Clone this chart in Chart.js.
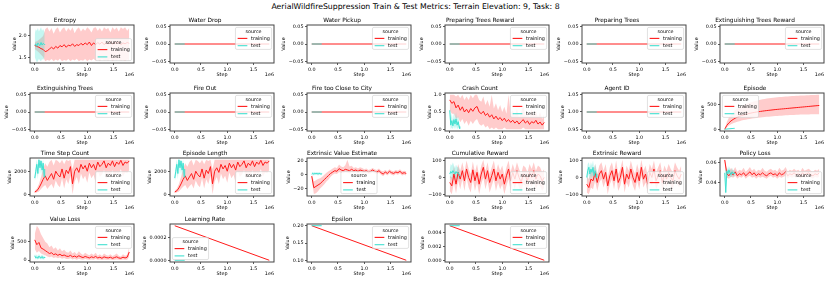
<!DOCTYPE html>
<html>
<head>
<meta charset="utf-8">
<script src="https://cdn.jsdelivr.net/npm/chart.js"></script>
<style>
  body { margin: 0; background: #fff; }
  #fig { position: relative; width: 831px; height: 283px; overflow: hidden; background: #fff; }
  #suptitle { position: absolute; left: 0; top: 2px; width: 831px; text-align: center; white-space: nowrap;
              font-family: "DejaVu Sans"; font-size: 7.75px; line-height: 10px; color: #000; }
  #fig canvas { position: absolute; }
</style>
</head>
<body>
<div id="fig">
  <div id="suptitle">AerialWildfireSuppression Train &amp; Test Metrics: Terrain Elevation: 9, Task: 8</div>
</div>
<script>
// steps on the x axis
const trainSteps = [0, 40000, 80000, 120000, 160000, 200000, 240000, 280000, 320000, 360000,
  400000, 440000, 480000, 520000, 560000, 600000, 640000, 680000, 720000, 760000,
  800000, 840000, 880000, 920000, 960000, 1000000, 1040000, 1080000, 1120000, 1160000,
  1200000, 1240000, 1280000, 1320000, 1360000, 1400000, 1440000, 1480000, 1520000, 1560000,
  1600000, 1640000, 1680000, 1720000, 1760000, 1800000];
const testSteps = [0, 20000, 40000, 60000, 80000, 100000, 120000, 140000, 160000, 180000, 190000];
const lineSteps = [0, 1800000];
const lineTestSteps = [0, 190000];
const xTicks = [0, 500000, 1000000, 1500000];
const xTickLabels = ['0.0', '0.5', '1.0', '1.5'];

const seriesNames = ['training', 'test'];
const legendTitle = 'source';

// Entropy
const entropyTrain = [1.78, 1.76, 1.74, 1.71, 1.69, 1.64, 1.66, 1.70, 1.74, 1.70,
  1.76, 1.72, 1.78, 1.75, 1.80, 1.74, 1.79, 1.77, 1.82, 1.76,
  1.80, 1.78, 1.83, 1.79, 1.84, 1.80, 1.86, 1.78, 1.84, 1.80,
  1.85, 1.81, 1.86, 1.80, 1.84, 1.82, 1.87, 1.81, 1.85, 1.83,
  1.86, 1.80, 1.84, 1.82, 1.85, 1.83];
const entropyTrainLo = [1.70, 1.66, 1.62, 1.57, 1.52, 1.42, 1.45, 1.43, 1.47, 1.42,
  1.46, 1.43, 1.48, 1.42, 1.45, 1.43, 1.47, 1.42, 1.46, 1.44,
  1.48, 1.42, 1.45, 1.43, 1.47, 1.42, 1.46, 1.44, 1.48, 1.43,
  1.46, 1.42, 1.47, 1.44, 1.45, 1.43, 1.48, 1.42, 1.46, 1.44,
  1.47, 1.43, 1.45, 1.42, 1.46, 1.44];
const entropyTrainHi = [1.86, 1.88, 1.91, 1.95, 2.00, 2.15, 2.20, 2.10, 2.18, 2.05,
  2.15, 2.20, 2.08, 2.16, 2.20, 2.10, 2.18, 2.12, 2.20, 2.06,
  2.15, 2.20, 2.10, 2.17, 2.12, 2.20, 2.15, 2.08, 2.18, 2.20,
  2.12, 2.18, 2.10, 2.20, 2.15, 2.18, 2.08, 2.20, 2.14, 2.19,
  2.10, 2.20, 2.16, 2.20, 2.12, 2.18];
const entropyTest = [1.78, 1.82, 1.76, 1.84, 1.80, 1.78, 1.85, 1.79, 1.83, 1.81, 1.80];
const entropyTestLo = [1.52, 1.45, 1.40, 1.42, 1.48, 1.44, 1.42, 1.47, 1.45, 1.50, 1.55];
const entropyTestHi = [2.05, 2.15, 2.12, 2.18, 2.10, 2.15, 2.20, 2.12, 2.16, 2.10, 2.05];
const entropyTicks = [1.5, 2.0];
const entropyTickLabels = ['1.5', '2.0'];

// flat metrics
const zeroTrain = [0, 0];
const zeroTest = [0, 0];
const flatTicks = [-0.05, 0, 0.05];
const flatTickLabels = ['\u22120.05', '0.00', '0.05'];
const agentTrain = [1, 1];
const agentTest = [1, 1];
const agentTicks = [0.95, 1.0, 1.05];
const agentTickLabels = ['0.95', '1.00', '1.05'];

// Crash Count
const crashTrain = [0.85, 0.75, 0.80, 0.62, 0.70, 0.55, 0.65, 0.50, 0.58, 0.48,
  0.60, 0.52, 0.62, 0.66, 0.50, 0.45, 0.52, 0.40, 0.46, 0.35,
  0.42, 0.30, 0.38, 0.28, 0.34, 0.25, 0.32, 0.22, 0.28, 0.20,
  0.26, 0.18, 0.24, 0.15, 0.22, 0.28, 0.18, 0.24, 0.14, 0.22,
  0.18, 0.26, 0.15, 0.21, 0.12, 0.20];
const crashTrainLo = [0.55, 0.45, 0.45, 0.30, 0.35, 0.20, 0.30, 0.15, 0.25, 0.10,
  0.25, 0.15, 0.25, 0.30, 0.15, 0.10, 0.15, 0.05, 0.10, 0.00,
  0.05, 0.00, 0.05, 0.00, 0.00, 0.00, 0.05, 0.00, 0.00, 0.00,
  0.00, 0.00, 0.00, 0.00, 0.00, 0.05, 0.00, 0.00, 0.00, 0.00,
  0.00, 0.00, 0.00, 0.00, 0.00, 0.00];
const crashTrainHi = [1.00, 1.00, 1.00, 0.95, 1.00, 0.90, 1.00, 0.85, 0.95, 0.85,
  1.00, 0.90, 1.00, 1.00, 0.85, 0.80, 0.95, 0.70, 0.85, 0.65,
  1.00, 0.60, 0.75, 0.55, 0.70, 0.50, 0.65, 0.45, 1.00, 0.45,
  0.55, 0.40, 0.60, 0.35, 0.50, 0.70, 0.40, 0.50, 0.35, 0.60,
  0.40, 0.55, 0.35, 0.50, 0.30, 0.45];
const crashTest = [0.55, 0.12, 0.25, 0.10, 0.28, 0.15, 0.30, 0.12, 0.22, 0.08, 0.02];
const crashTestLo = [0.30, 0.00, 0.05, 0.00, 0.10, 0.00, 0.10, 0.00, 0.05, 0.00, 0.00];
const crashTestHi = [0.80, 0.30, 0.45, 0.25, 0.50, 0.30, 0.50, 0.30, 0.40, 0.20, 0.05];
const crashTicks = [0, 0.5, 1.0];
const crashTickLabels = ['0.0', '0.5', '1.0'];

// Episode
const episodeTrain = [0, 80, 130, 170, 200, 225, 245, 262, 278, 292,
  304, 315, 325, 334, 342, 350, 357, 363, 369, 375,
  380, 385, 390, 395, 400, 404, 408, 412, 416, 420,
  424, 428, 432, 436, 440, 444, 448, 452, 456, 460,
  464, 468, 472, 476, 480, 484];
const episodeTrainLo = [0, 40, 75, 100, 120, 138, 152, 165, 176, 186,
  195, 203, 210, 217, 223, 229, 234, 239, 244, 248,
  252, 256, 260, 264, 268, 271, 274, 277, 280, 283,
  286, 288, 290, 292, 294, 296, 298, 299, 300, 301,
  302, 303, 304, 305, 306, 307];
const episodeTrainHi = [0, 150, 240, 300, 350, 390, 420, 448, 472, 494,
  512, 528, 543, 556, 568, 580, 590, 600, 608, 616,
  623, 630, 636, 641, 646, 650, 654, 658, 662, 665,
  668, 671, 674, 677, 680, 682, 684, 686, 688, 690,
  692, 694, 696, 698, 700, 702];
const episodeTest = [0, 3, 5, 7, 9, 11, 13, 15, 17, 19, 20];
const episodeTestLo = [0, 1, 3, 5, 7, 9, 11, 13, 15, 17, 18];
const episodeTestHi = [0, 5, 7, 9, 11, 13, 15, 17, 19, 21, 22];
const episodeTicks = [0, 500];
const episodeTickLabels = ['0', '500'];

// Time Step Count / Episode Length
const stepCountTrain = [200, 300, 550, 900, 1300, 1600, 1200, 1500, 1800, 1300,
  2000, 1700, 1500, 2200, 1400, 2100, 1800, 2400, 900, 2000,
  2300, 1900, 2600, 2200, 2500, 2000, 2700, 2300, 2600, 2100,
  2800, 2400, 2600, 2900, 2300, 2700, 2500, 2900, 2400, 2800,
  2600, 2950, 2500, 2800, 2700, 2900];
const stepCountTrainLo = [100, 150, 250, 450, 650, 800, 450, 700, 900, 500,
  1200, 800, 600, 1400, 500, 1300, 900, 1600, 0, 1100,
  1500, 900, 1800, 1300, 1600, 1000, 1900, 1400, 1700, 1000,
  2000, 1500, 1700, 2100, 1300, 1800, 1500, 2100, 1400, 1900,
  1700, 2200, 1500, 1900, 1800, 2100];
const stepCountTrainHi = [300, 500, 900, 1500, 2200, 2700, 2400, 2800, 3000, 2500,
  3000, 2900, 2700, 3000, 2600, 3000, 2900, 3000, 2200, 3000,
  3000, 3000, 3000, 3000, 3000, 3000, 3000, 3000, 3000, 3000,
  3000, 3000, 3000, 3000, 3000, 3000, 3000, 3000, 3000, 3000,
  3000, 3000, 3000, 3000, 3000, 3000];
const stepCountTest = [1400, 2000, 2600, 1800, 3000, 2300, 2900, 2100, 2700, 1500, 2200];
const stepCountTestLo = [1100, 1500, 2000, 1300, 2600, 1700, 2400, 1500, 2100, 1100, 1600];
const stepCountTestHi = [1700, 2500, 3000, 2400, 3000, 2900, 3000, 2700, 3000, 2000, 2800];
const stepCountTicks = [0, 2000];
const stepCountTickLabels = ['0', '2000'];

// Extrinsic Value Estimate
const valueEstTrain = [-2, -19, -17, -15, -13, -10, -7, -4, -1, 2,
  4, 6, 5, 9, 7, 6, 8, 7, 6, 8,
  6, 7, 5, 7, 6, 5, 6, 4, 5, 7,
  5, 4, 6, 3, 1, 4, 2, 5, 3, 2,
  4, 3, 5, 2, 3, 2];
const valueEstTrainLo = [-5, -28, -27, -24, -20, -17, -14, -10, -7, -3,
  0, 2, 1, 4, 3, 2, 4, 3, 2, 4,
  3, 4, 2, 4, 3, 2, 3, 1, 2, 4,
  2, 1, 3, 0, -2, 1, -1, 2, 0, -1,
  1, 0, 2, -1, 0, -1];
const valueEstTrainHi = [2, -10, -8, -6, -5, -3, 0, 3, 5, 7,
  9, 11, 10, 15, 12, 11, 14, 22, 12, 13,
  10, 11, 9, 11, 10, 8, 9, 7, 8, 10,
  8, 7, 9, 6, 5, 7, 5, 8, 6, 5,
  7, 6, 8, 5, 6, 5];
const valueEstTest = [1, 2, 1, 2, 1.5, 2, 1, 2, 1.5, 1, 2];
const valueEstTestLo = [-1, 0, -1, 0, 0, 0, -1, 0, 0, -1, 0];
const valueEstTestHi = [3, 4, 3, 4, 3, 4, 3, 4, 3, 3, 4];
const valueEstTicks = [-20, 0, 20];
const valueEstTickLabels = ['\u221220', '0', '20'];

// Cumulative Reward
const cumRewardTrain = [-30, -50, 20, -40, 30, -10, 40, -20, 50, 0,
  -30, 45, -20, 30, -40, 20, 60, -10, 40, -30,
  10, 50, -20, 30, -10, 20, -40, 10, 50, -20,
  30, -10, 40, 0, -30, 20, 10, -20, 30, 0,
  40, -10, 20, 10, -20, 0];
const cumRewardTrainLo = [-80, -100, -30, -95, -20, -70, -10, -80, 0, -60,
  -90, -10, -80, -30, -100, -40, 0, -70, -20, -90,
  -50, -10, -80, -30, -70, -40, -100, -50, -10, -80,
  -30, -70, -20, -60, -90, -40, -50, -80, -30, -60,
  -20, -70, -40, -50, -80, -60];
const cumRewardTrainHi = [10, 0, 70, 10, 80, 40, 90, 30, 100, 50,
  20, 95, 30, 80, 10, 70, 105, 40, 90, 20,
  60, 100, 30, 80, 40, 70, 10, 60, 100, 30,
  80, 40, 90, 50, 20, 70, 60, 30, 80, 50,
  90, 40, 70, 60, 30, 50];
const cumRewardTest = [20, 35, 25, 40, 30, 20, 35, 25, 30, 15, 10];
const cumRewardTestLo = [-10, 0, -20, 10, -5, -15, 0, -10, -5, -20, -25];
const cumRewardTestHi = [50, 80, 70, 90, 70, 55, 75, 60, 65, 45, 40];
const rewardTicks = [-100, 0, 100];
const rewardTickLabels = ['\u2212100', '0', '100'];

// Extrinsic Reward
const extRewardTrain = [-40, -60, -10, -20, 30, -30, 20, 40, -10, 30,
  -50, 10, 40, -20, 50, -30, 0, 60, -40, 20,
  -10, 50, 0, -30, 30, -20, 60, -10, 20, -40,
  30, 0, 50, -20, 10, 40, -30, 20, -10, 30,
  0, -20, 40, 10, -10, 20];
const extRewardTrainLo = [-90, -100, -60, -70, -20, -80, -30, -10, -60, -20,
  -100, -40, -10, -70, 0, -80, -50, 10, -90, -30,
  -60, 0, -50, -80, -20, -70, 10, -60, -30, -90,
  -20, -50, 0, -70, -40, -10, -80, -30, -60, -20,
  -50, -70, -10, -40, -60, -30];
const extRewardTrainHi = [10, -10, 40, 30, 80, 20, 70, 90, 40, 80,
  0, 60, 90, 30, 100, 20, 50, 105, 10, 70,
  40, 100, 50, 20, 80, 30, 105, 40, 70, 10,
  80, 50, 100, 30, 60, 90, 20, 70, 40, 80,
  50, 30, 90, 60, 40, 70];
const extRewardTest = [0, 40, 60, 20, 50, 30, 60, 10, 40, 20, 0];
const extRewardTestLo = [-40, 0, 20, -20, 10, -10, 20, -30, 0, -20, -40];
const extRewardTestHi = [40, 80, 90, 60, 90, 70, 100, 50, 80, 60, 40];

// Policy Loss
const policyTrain = [0.063, 0.049, 0.047, 0.050, 0.048, 0.051, 0.047, 0.049, 0.048, 0.050,
  0.047, 0.049, 0.051, 0.048, 0.050, 0.047, 0.049, 0.048, 0.050, 0.048,
  0.047, 0.049, 0.050, 0.048, 0.049, 0.047, 0.050, 0.048, 0.049, 0.051,
  0.047, 0.049, 0.048, 0.050, 0.048, 0.049, 0.047, 0.050, 0.048, 0.049,
  0.050, 0.048, 0.047, 0.049, 0.048, 0.050];
const policyTrainLo = [0.058, 0.045, 0.044, 0.046, 0.045, 0.047, 0.044, 0.046, 0.045, 0.047,
  0.044, 0.046, 0.047, 0.045, 0.046, 0.044, 0.046, 0.045, 0.046, 0.045,
  0.044, 0.046, 0.047, 0.045, 0.046, 0.044, 0.046, 0.045, 0.046, 0.047,
  0.044, 0.046, 0.045, 0.046, 0.045, 0.046, 0.044, 0.046, 0.045, 0.046,
  0.047, 0.045, 0.044, 0.046, 0.045, 0.046];
const policyTrainHi = [0.065, 0.053, 0.051, 0.055, 0.052, 0.056, 0.051, 0.053, 0.052, 0.055,
  0.051, 0.053, 0.056, 0.052, 0.054, 0.051, 0.053, 0.052, 0.055, 0.052,
  0.051, 0.053, 0.054, 0.052, 0.053, 0.051, 0.055, 0.052, 0.053, 0.056,
  0.051, 0.053, 0.052, 0.054, 0.052, 0.053, 0.051, 0.055, 0.052, 0.053,
  0.054, 0.052, 0.051, 0.053, 0.052, 0.054];
const policyTest = [0.050, 0.030, 0.052, 0.049, 0.053, 0.050, 0.048, 0.051, 0.049, 0.050, 0.049];
const policyTestLo = [0.046, 0.028, 0.047, 0.045, 0.049, 0.046, 0.045, 0.047, 0.046, 0.047, 0.046];
const policyTestHi = [0.054, 0.052, 0.056, 0.053, 0.057, 0.054, 0.052, 0.055, 0.052, 0.053, 0.052];
const policyTicks = [0.04, 0.06];
const policyTickLabels = ['0.04', '0.06'];

// Value Loss
const valueLossTrain = [550, 420, 480, 330, 300, 260, 220, 180, 200, 150,
  170, 130, 160, 120, 140, 110, 100, 130, 90, 110,
  80, 120, 90, 70, 100, 80, 60, 90, 70, 100,
  60, 80, 50, 90, 70, 60, 80, 50, 70, 90,
  60, 50, 80, 60, 80, 220];
const valueLossTrainLo = [300, 200, 250, 180, 150, 130, 100, 80, 100, 60,
  80, 50, 70, 40, 60, 30, 30, 50, 20, 40,
  10, 40, 20, 10, 30, 20, 10, 20, 10, 30,
  10, 20, 5, 20, 10, 10, 20, 5, 10, 20,
  10, 5, 20, 10, 10, 100];
const valueLossTrainHi = [700, 930, 850, 700, 600, 500, 450, 350, 400, 300,
  350, 260, 320, 240, 280, 220, 200, 260, 180, 220,
  160, 240, 180, 140, 200, 160, 130, 180, 140, 200,
  120, 160, 110, 180, 140, 120, 160, 110, 140, 180,
  120, 100, 160, 120, 140, 350];
const valueLossTest = [120, 60, 90, 50, 110, 70, 60, 100, 50, 80, 60];
const valueLossTestLo = [60, 20, 40, 10, 50, 30, 20, 40, 10, 30, 20];
const valueLossTestHi = [180, 110, 150, 100, 170, 120, 110, 160, 100, 140, 110];
const valueLossTicks = [0, 500];
const valueLossTickLabels = ['0', '500'];

// schedules
const lrTrain = [0.0003, 0];
const lrTest = [0, 0];
const lrTicks = [0, 0.0002];
const lrTickLabels = ['0.0000', '0.0002'];
const epsTrain = [0.2, 0.1];
const epsTest = [0.2, 0.2];
const epsTicks = [0.10, 0.15, 0.20];
const epsTickLabels = ['0.10', '0.15', '0.20'];
const betaTrain = [0.005, 0];
const betaTest = [0.005, 0.005];
const betaTicks = [0, 0.002, 0.004];
const betaTickLabels = ['0.000', '0.002', '0.004'];

const flat = (title) => ({ title: title, train: [lineSteps, zeroTrain], test: [lineTestSteps, zeroTest],
  ylim: [-0.055, 0.055], ticks: flatTicks, labels: flatTickLabels, legend: 'ur' });

const panels = [
  { title: 'Entropy', train: [trainSteps, entropyTrain, entropyTrainLo, entropyTrainHi],
    test: [testSteps, entropyTest, entropyTestLo, entropyTestHi],
    ylim: [1.38, 2.25], ticks: entropyTicks, labels: entropyTickLabels, legend: 'lr' },
  flat('Water Drop'),
  flat('Water Pickup'),
  flat('Preparing Trees Reward'),
  flat('Preparing Trees'),
  flat('Extinguishing Trees Reward'),
  flat('Extinguishing Trees'),
  flat('Fire Out'),
  flat('Fire too Close to City'),
  { title: 'Crash Count', train: [trainSteps, crashTrain, crashTrainLo, crashTrainHi],
    test: [testSteps, crashTest, crashTestLo, crashTestHi],
    ylim: [-0.05, 1.05], ticks: crashTicks, labels: crashTickLabels, legend: 'ur' },
  { title: 'Agent ID', train: [lineSteps, agentTrain], test: [lineTestSteps, agentTest],
    ylim: [0.945, 1.055], ticks: agentTicks, labels: agentTickLabels, legend: 'ur' },
  { title: 'Episode', train: [trainSteps, episodeTrain, episodeTrainLo, episodeTrainHi],
    test: [testSteps, episodeTest, episodeTestLo, episodeTestHi],
    ylim: [-35, 737], ticks: episodeTicks, labels: episodeTickLabels, legend: 'ul' },
  { title: 'Time Step Count', train: [trainSteps, stepCountTrain, stepCountTrainLo, stepCountTrainHi],
    test: [testSteps, stepCountTest, stepCountTestLo, stepCountTestHi],
    ylim: [-150, 3150], ticks: stepCountTicks, labels: stepCountTickLabels, legend: 'lr' },
  { title: 'Episode Length', train: [trainSteps, stepCountTrain, stepCountTrainLo, stepCountTrainHi],
    test: [testSteps, stepCountTest, stepCountTestLo, stepCountTestHi],
    ylim: [-150, 3150], ticks: stepCountTicks, labels: stepCountTickLabels, legend: 'lr' },
  { title: 'Extrinsic Value Estimate', train: [trainSteps, valueEstTrain, valueEstTrainLo, valueEstTrainHi],
    test: [testSteps, valueEstTest, valueEstTestLo, valueEstTestHi],
    ylim: [-31, 24.5], ticks: valueEstTicks, labels: valueEstTickLabels, legend: 'lc' },
  { title: 'Cumulative Reward', train: [trainSteps, cumRewardTrain, cumRewardTrainLo, cumRewardTrainHi],
    test: [testSteps, cumRewardTest, cumRewardTestLo, cumRewardTestHi],
    ylim: [-110, 115], ticks: rewardTicks, labels: rewardTickLabels, legend: 'lr' },
  { title: 'Extrinsic Reward', train: [trainSteps, extRewardTrain, extRewardTrainLo, extRewardTrainHi],
    test: [testSteps, extRewardTest, extRewardTestLo, extRewardTestHi],
    ylim: [-110, 115], ticks: rewardTicks, labels: rewardTickLabels, legend: 'lr' },
  { title: 'Policy Loss', train: [trainSteps, policyTrain, policyTrainLo, policyTrainHi],
    test: [testSteps, policyTest, policyTestLo, policyTestHi],
    ylim: [0.0265, 0.065], ticks: policyTicks, labels: policyTickLabels, legend: 'lr' },
  { title: 'Value Loss', train: [trainSteps, valueLossTrain, valueLossTrainLo, valueLossTrainHi],
    test: [testSteps, valueLossTest, valueLossTestLo, valueLossTestHi],
    ylim: [-50, 980], ticks: valueLossTicks, labels: valueLossTickLabels, legend: 'ur' },
  { title: 'Learning Rate', train: [lineSteps, lrTrain], test: [lineTestSteps, lrTest],
    ylim: [-0.000015, 0.000315], ticks: lrTicks, labels: lrTickLabels, legend: 'll' },
  { title: 'Epsilon', train: [lineSteps, epsTrain], test: [lineTestSteps, epsTest],
    ylim: [0.095, 0.205], ticks: epsTicks, labels: epsTickLabels, legend: 'ur' },
  { title: 'Beta', train: [lineSteps, betaTrain], test: [lineTestSteps, betaTest],
    ylim: [-0.00025, 0.00525], ticks: betaTicks, labels: betaTickLabels, legend: 'ur' }
];

// look
const TRAIN = '#ff1a1a', TRAIN_BAND = 'rgba(255, 0, 0, 0.2)';
const TEST = '#40e0d0', TEST_BAND = 'rgba(64, 224, 208, 0.3)';
const seriesColors = [TRAIN, TEST];
const FONT_SIZE = 4.85;
const FONT = FONT_SIZE + 'px "DejaVu Sans"';
const colLeft = [30, 170, 307, 445, 582, 720];
const rowTop = [25, 93, 158, 224];
const AX_W = 104, AX_H = 38, PAD_L = 34, PAD_T = 12, PAD_B = 18, PAD_R = 4;

Chart.defaults.font.family = '"DejaVu Sans", sans-serif';
Chart.defaults.font.size = FONT_SIZE;
Chart.defaults.color = '#000';

function pts(xs, ys) {
  return xs.map((x, i) => ({ x: x, y: ys[i] }));
}

function bandSets(s, color, order) {
  if (s.length < 4) return [];
  return [
    { data: pts(s[0], s[2]), borderColor: 'transparent', borderWidth: 0, pointRadius: 0, fill: false, order: order },
    { data: pts(s[0], s[3]), borderColor: 'transparent', borderWidth: 0, pointRadius: 0, fill: '-1',
      backgroundColor: color, order: order }
  ];
}

function roundRect(ctx, x, y, w, h, r) {
  ctx.beginPath();
  ctx.moveTo(x + r, y);
  ctx.arcTo(x + w, y, x + w, y + h, r);
  ctx.arcTo(x + w, y + h, x, y + h, r);
  ctx.arcTo(x, y + h, x, y, r);
  ctx.arcTo(x, y, x + w, y, r);
  ctx.closePath();
}

// frame, "1e6" offset text and the in-axes legend
const decor = {
  id: 'decor',
  afterDraw(chart, args, opts) {
    const ctx = chart.ctx, a = chart.chartArea;
    ctx.save();
    ctx.strokeStyle = '#444';
    ctx.lineWidth = 1;
    ctx.strokeRect(a.left, a.top, a.right - a.left, a.bottom - a.top);

    ctx.font = FONT;
    ctx.fillStyle = '#000';
    ctx.textBaseline = 'middle';
    ctx.textAlign = 'right';
    ctx.fillText('1e6', a.right, a.bottom + 12);

    const tw = ctx.measureText(seriesNames[0]).width;
    const W = 3.8 + 9.7 + 3.9 + tw, H = 22, m = 2.4;
    const pos = opts.legend;
    const x = pos[1] === 'r' ? a.right - m - W : pos[1] === 'l' ? a.left + m : (a.left + a.right - W) / 2;
    const y = pos[0] === 'u' ? a.top + m : a.bottom - m - H;
    roundRect(ctx, x, y, W, H, 1.5);
    ctx.fillStyle = 'rgba(255, 255, 255, 0.8)';
    ctx.fill();
    ctx.strokeStyle = '#cccccc';
    ctx.lineWidth = 0.6;
    ctx.stroke();
    ctx.fillStyle = '#000';
    ctx.textAlign = 'center';
    ctx.fillText(legendTitle, x + W / 2, y + 4.2);
    ctx.textAlign = 'left';
    seriesNames.forEach((name, i) => {
      const ly = y + 11 + i * 7.3;
      ctx.strokeStyle = seriesColors[i];
      ctx.lineWidth = 1.1;
      ctx.beginPath();
      ctx.moveTo(x + 2.2, ly);
      ctx.lineTo(x + 11.9, ly);
      ctx.stroke();
      ctx.fillText(name, x + 15.6, ly);
    });
    ctx.restore();
  }
};

const fig = document.getElementById('fig');
const measure = document.createElement('canvas').getContext('2d');
measure.font = FONT;

panels.forEach((p, k) => {
  const r = Math.floor(k / 6), c = k % 6;
  const cv = document.createElement('canvas');
  cv.width = PAD_L + AX_W + PAD_R;
  cv.height = PAD_T + AX_H + PAD_B;
  cv.style.left = (colLeft[c] - PAD_L) + 'px';
  cv.style.top = (rowTop[r] - PAD_T) + 'px';
  fig.appendChild(cv);

  // y label sits left of the widest tick label, like matplotlib
  const tw = Math.max(...p.labels.map(s => measure.measureText(s).width));
  const yTitlePad = Math.max(PAD_L - (tw + 8) - FONT_SIZE * 0.6, 0);

  const datasets = [
    ...bandSets(p.train, TRAIN_BAND, 3),
    ...bandSets(p.test, TEST_BAND, 2),
    { data: pts(p.train[0], p.train[1]), borderColor: TRAIN, borderWidth: 1, pointRadius: 0, fill: false, order: 1 },
    { data: pts(p.test[0], p.test[1]), borderColor: TEST, borderWidth: 1, pointRadius: 0, fill: false, order: 0 }
  ];

  new Chart(cv, {
    type: 'line',
    data: { datasets: datasets },
    options: {
      responsive: false,
      animation: false,
      devicePixelRatio: 1,
      events: [],
      layout: { padding: { left: 0, top: 0, right: PAD_R, bottom: 0 } },
      plugins: {
        legend: { display: false },
        tooltip: { enabled: false },
        title: {
          display: true, text: p.title, color: '#000',
          font: { size: 5.8, weight: 'normal', lineHeight: '9px' },
          padding: { top: 3, bottom: 0 }
        },
        decor: { legend: p.legend }
      },
      scales: {
        x: {
          type: 'linear', min: -90000, max: 1890000,
          afterFit: s => { s.height = PAD_B; },
          afterBuildTicks: s => { s.ticks = xTicks.map(v => ({ value: v })); },
          ticks: { callback: (v, i) => xTickLabels[i], autoSkip: false, maxRotation: 0, padding: 1.5, color: '#000' },
          grid: { display: true, drawOnChartArea: false, drawTicks: true, tickLength: 2, tickWidth: 0.8, tickColor: '#333' },
          border: { display: false },
          title: { display: true, text: 'Step', color: '#000', padding: { top: 0, bottom: 3.1 } }
        },
        y: {
          type: 'linear', min: p.ylim[0], max: p.ylim[1],
          afterFit: s => { s.width = PAD_L; },
          afterBuildTicks: s => { s.ticks = p.ticks.map(v => ({ value: v })); },
          ticks: { callback: (v, i) => p.labels[i], autoSkip: false, padding: 1.5, color: '#000' },
          grid: { display: true, drawOnChartArea: false, drawTicks: true, tickLength: 2, tickWidth: 0.8, tickColor: '#333' },
          border: { display: false },
          title: { display: true, text: 'Value', color: '#000', padding: { top: yTitlePad, bottom: 0 } }
        }
      }
    },
    plugins: [decor]
  });
});
</script>
</body>
</html>
